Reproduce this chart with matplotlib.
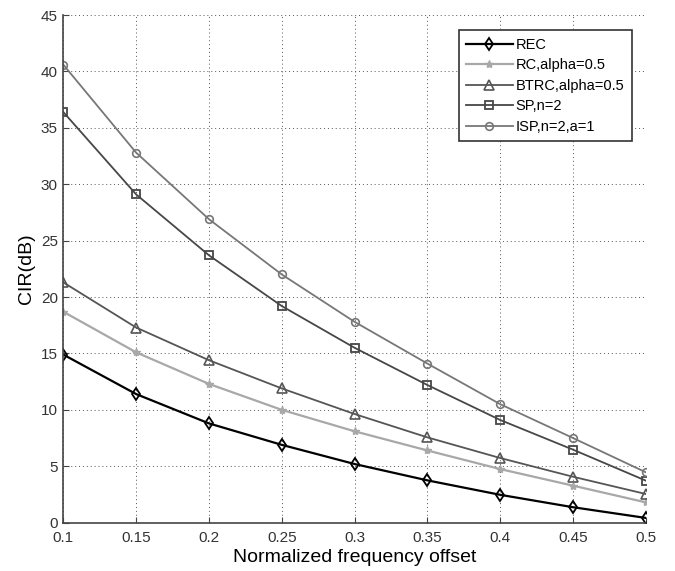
import matplotlib
matplotlib.use('Agg')
import matplotlib.pyplot as plt
import numpy as np

plt.rcParams['font.family'] = ['Liberation Sans', 'DejaVu Sans']

# normalized frequency offset
fo = [0.1, 0.15, 0.2, 0.25, 0.3, 0.35, 0.4, 0.45, 0.5]

# CIR in dB for each pulse shape
cir_rec = [14.9, 11.4, 8.8, 6.9, 5.2, 3.75, 2.47, 1.37, 0.42]
cir_rc = [18.7, 15.1, 12.3, 10.0, 8.1, 6.4, 4.75, 3.28, 1.8]
cir_btrc = [21.3, 17.3, 14.4, 11.9, 9.63, 7.56, 5.73, 4.07, 2.54]
cir_sp = [36.4, 29.1, 23.7, 19.2, 15.5, 12.2, 9.1, 6.47, 3.72]
cir_isp = [40.6, 32.8, 26.9, 22.0, 17.8, 14.1, 10.5, 7.5, 4.46]

fig = plt.figure(figsize=(6.75, 5.71), dpi=100)
ax = fig.add_axes([0.0938, 0.0846, 0.957 - 0.0938, 0.9737 - 0.0846])

ax.plot(fo, cir_rec, '-d', color='black', lw=1.6, ms=6, mfc='none', mew=1.3, label='REC')
ax.plot(fo, cir_rc, '-*', color='#a8a8a8', lw=1.6, ms=6, mew=1.0, label='RC,alpha=0.5')
ax.plot(fo, cir_btrc, '-^', color='#555555', lw=1.3, ms=6.5, mfc='none', mew=1.2, label='BTRC,alpha=0.5')
ax.plot(fo, cir_sp, '-s', color='#474747', lw=1.3, ms=6, mfc='none', mew=1.3, label='SP,n=2')
ax.plot(fo, cir_isp, '-o', color='#777777', lw=1.3, ms=5.5, mfc='none', mew=1.2, label='ISP,n=2,a=1')

ax.set_xlim(0.1, 0.5)
ax.set_ylim(0, 45)
ax.set_xticks(np.arange(0.1, 0.51, 0.05))
ax.set_xticklabels(['0.1', '0.15', '0.2', '0.25', '0.3', '0.35', '0.4', '0.45', '0.5'])
ax.set_yticks(range(0, 46, 5))
ax.grid(True, linestyle=(0, (1, 3)), color='#555555', lw=0.7)

ax.spines['top'].set_visible(False)
ax.spines['right'].set_visible(False)
for s in ('left', 'bottom'):
    ax.spines[s].set_color('#444444')
    ax.spines[s].set_linewidth(1.2)
ax.tick_params(direction='in', length=4, color='#444444', labelsize=11, labelcolor='#333333')
ax.tick_params(axis='x', pad=6)
ax.tick_params(axis='y', pad=4)

ax.set_xlabel('Normalized frequency offset', fontsize=14, labelpad=3)
ax.set_ylabel('CIR(dB)', fontsize=14, labelpad=4)

leg = ax.legend(loc='upper right', bbox_to_anchor=(0.988, 0.984), fontsize=10.5,
                handlelength=3.2, handletextpad=0.2, borderpad=0.5,
                labelspacing=0.45, fancybox=False, framealpha=1)
leg.get_frame().set_edgecolor('#333333')
leg.get_frame().set_linewidth(1.2)

plt.savefig('out.png', dpi=100)
